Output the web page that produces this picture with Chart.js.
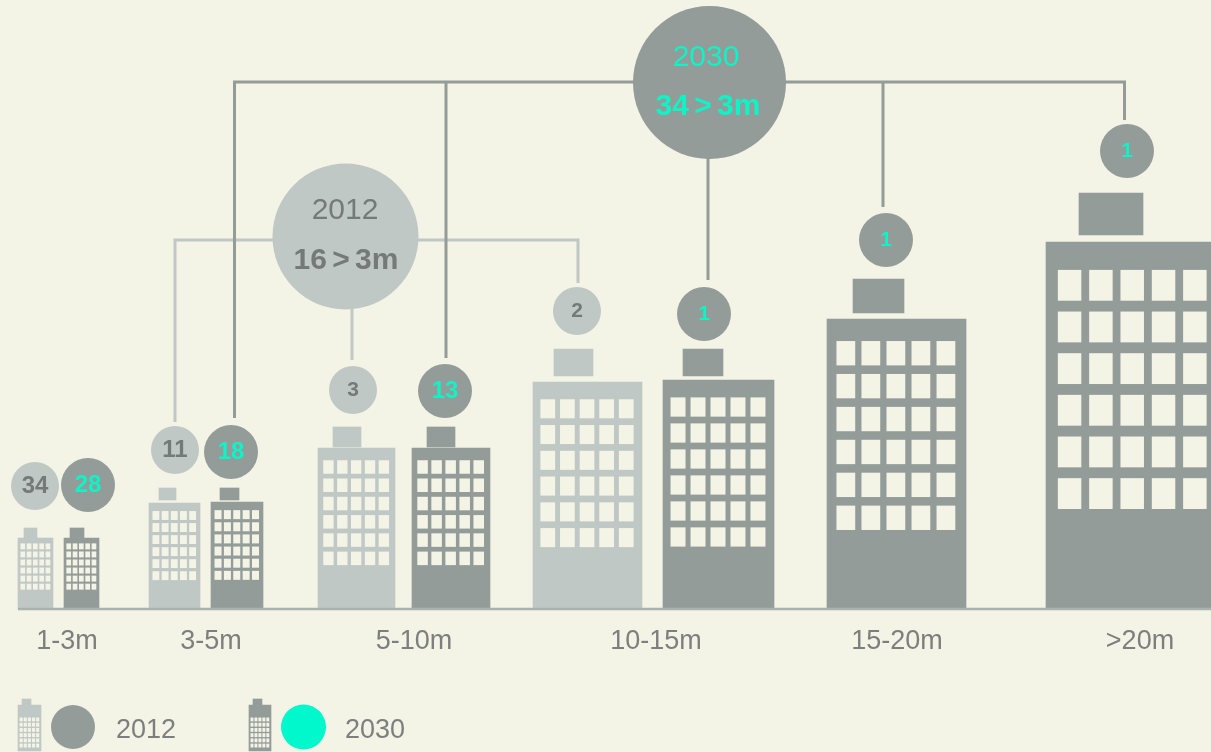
<!DOCTYPE html>
<html><head><meta charset="utf-8">
<style>html,body{margin:0;padding:0;background:#f3f3e6}canvas{display:block}</style>
<script src="https://cdn.jsdelivr.net/npm/chart.js@4/dist/chart.umd.min.js"></script>
</head><body><canvas id="c" width="1211" height="752"></canvas>
<script>
// ---- data ----
const categories = ['1-3m','3-5m','5-10m','10-15m','15-20m','>20m'];
const count2012 = [34,11,3,2];
const count2030 = [28,18,13,1,1,1];
const height2012 = [71,106,161,227];
const height2030 = [71,107,161,229,290,367];
const summaryYears = ['2012','2030'];
const summaryLabels = ['16 > 3m','34 > 3m'];
const legendLabels = ['2012','2030'];

// ---- layout (chart units: x = left to right, y = above the street line) ----
const categoryX = [67,211,414,656,897,1140];
const left2012 = [18,149,318,533], width2012 = [35,51,77,109];
const left2030 = [64,211,412,663,827,1046], width2030 = [35,52,78,111,139,174];
const roof2012 = [[24,13,71,10],[159,17,109,12],[333,28,162,20],[554,39,233,27]];
const roof2030 = [[70,14,71,10],[220,19,109,12],[427,28,162,20],[683,40,233,27],[853,51,296,34],[1079,64,374,42]];
const bubble2012 = [[35,123],[175,159],[353,219],[577,298]];
const bubble2030 = [[88,124],[231,157],[445,218],[704,295],[886,369],[1127,458]];
const labelSize2012 = [24,24,21,21];
const labelSize2030 = [24,24,24,21,21,21];
const hub = [{x:345.5,y:372.5,r:73},{x:709.5,y:526.5,r:76.5}];
const busY = [369,527];
const street = [18,1211];
const legendY = -118;

const C12='#bfc8c5', C30='#939c99', CYAN='#0ff3c6', GREY='#757a79', BG='#f3f3e6';
const FF='"Liberation Sans", Arial, sans-serif';

const datasets=[];
function building(left,w,h,color){
  datasets.push({type:'bar',windows:true,data:[{x:left+w/2,y:h}],backgroundColor:color,barThickness:w,grouped:false,order:4,borderWidth:0});
}
function block(r,color){
  datasets.push({type:'bar',data:[{x:r[0]+r[1]/2,y:[r[2],r[2]+r[3]]}],backgroundColor:color,barThickness:r[1],grouped:false,order:4,borderWidth:0});
}
height2012.forEach((h,i)=>{building(left2012[i],width2012[i],h,C12);block(roof2012[i],C12);});
height2030.forEach((h,i)=>{building(left2030[i],width2030[i],h,C30);block(roof2030[i],C30);});
// legend icons
function legendIcon(y0,y1,left,w,rl,rw,color){
  datasets.push({type:'bar',windows:true,data:[{x:left+w/2,y:[y0,y1]}],backgroundColor:color,barThickness:w,grouped:false,order:4,borderWidth:0});
  block([rl,rw,y1,6],color);
}
legendIcon(-142,-96,18,23,22,9,C12);
legendIcon(-142,-96,249,22,253,9,C30);

function line(points,color,order,width){
  datasets.push({type:'line',data:points.map(p=>({x:p[0],y:p[1]})),borderColor:color,borderWidth:width||3,pointRadius:0,tension:0,fill:false,order,borderJoinStyle:'miter',clip:false});
}
// street line
line([[street[0],0],[street[1],0]],'#aab2af',3,2.5);
// 2012 connectors
line([[175,187],[175,busY[0]],[578,busY[0]],[578,326]],C12,6);
line([[352,249],[352,300]],C12,6);
// 2030 connectors
line([[234.5,191],[234.5,busY[1]],[1124.5,busY[1]],[1124.5,489]],C30,5);
line([[446,251],[446,busY[1]]],C30,5);
line([[708,329],[708,busY[1]]],C30,5);
line([[883,402],[883,busY[1]]],C30,5);

function bubbles(points,r,color,labels,textColor,sizes){
  datasets.push({type:'bubble',data:points.map(p=>({x:p[0],y:p[1],r})),backgroundColor:color,borderWidth:0,order:1,clip:false,labels,textColor,sizes});
}
bubbles(bubble2012,24,C12,count2012,GREY,labelSize2012);
bubbles(bubble2030,27,C30,count2030,CYAN,labelSize2030);
datasets.push({type:'bubble',data:[hub[0]],backgroundColor:C12,borderWidth:0,order:1,clip:false});
datasets.push({type:'bubble',data:[hub[1]],backgroundColor:C30,borderWidth:0,order:1,clip:false});
datasets.push({type:'bubble',data:[{x:73,y:legendY,r:22}],backgroundColor:C30,borderWidth:0,order:1,clip:false});
datasets.push({type:'bubble',data:[{x:303.5,y:legendY,r:22.5}],backgroundColor:'#00f8cc',borderWidth:0,order:1,clip:false});

const windowsPlugin={id:'windows',afterDatasetsDraw(chart){
  const ctx=chart.ctx;ctx.save();ctx.fillStyle=BG;
  chart.data.datasets.forEach((ds,i)=>{
    if(!ds.windows)return;
    const el=chart.getDatasetMeta(i).data[0];
    const {x,y,base,width}=el.getProps(['x','y','base','width'],true);
    const H=base-y,left=x-width/2;
    for(let r=0;r<6;r++)for(let c=0;c<5;c++){
      ctx.fillRect(left+width*(0.068+0.18*c),y+H*(0.076+0.1135*r),width*0.135,H*0.084);
    }
  });
  ctx.restore();
}};
const textPlugin={id:'texts',afterDraw(chart){
  const ctx=chart.ctx,X=chart.scales.x,Y=chart.scales.y;
  ctx.save();ctx.textAlign='center';ctx.textBaseline='middle';
  chart.data.datasets.forEach(ds=>{
    if(!ds.labels)return;
    ctx.fillStyle=ds.textColor;
    ds.data.forEach((p,i)=>{
      ctx.font='bold '+ds.sizes[i]+'px '+FF;
      ctx.fillText(String(ds.labels[i]),X.getPixelForValue(p.x),Y.getPixelForValue(p.y));
    });
  });
  [[GREY,345,398],[CYAN,706,551]].forEach((s,i)=>{
    ctx.fillStyle=s[0];
    ctx.font='30px '+FF;
    ctx.fillText(summaryYears[i],X.getPixelForValue(s[1]),Y.getPixelForValue(s[2]));
    ctx.font='bold 30px '+FF;
    ctx.wordSpacing='-3px';
    ctx.fillText(summaryLabels[i],X.getPixelForValue(i?708:346),Y.getPixelForValue(i?502:348));
    ctx.wordSpacing='0px';
  });
  ctx.textAlign='left';ctx.fillStyle='#7d7f7e';ctx.font='27px '+FF;
  ctx.fillText(legendLabels[0],X.getPixelForValue(116),Y.getPixelForValue(-122));
  ctx.fillText(legendLabels[1],X.getPixelForValue(345),Y.getPixelForValue(-122));
  ctx.restore();
}};

new Chart(document.getElementById('c'),{
  type:'bar',
  data:{datasets},
  plugins:[windowsPlugin,textPlugin],
  options:{
    responsive:false,animation:false,
    layout:{padding:0,autoPadding:false},
    plugins:{legend:{display:false},tooltip:{enabled:false},title:{display:false}},
    scales:{
      x:{type:'linear',min:0,max:1211,offset:false,position:{y:0},
        grid:{display:false},border:{display:false},
        afterBuildTicks:a=>{a.ticks=categoryX.map(v=>({value:v}));},
        ticks:{autoSkip:false,maxRotation:0,padding:8,color:'#7d7f7e',font:{family:FF,size:27},
          callback:(v,i)=>categories[i]}},
      y:{type:'linear',min:-143,max:609,display:false,grid:{display:false}}
    }
  }
});
</script></body></html>
